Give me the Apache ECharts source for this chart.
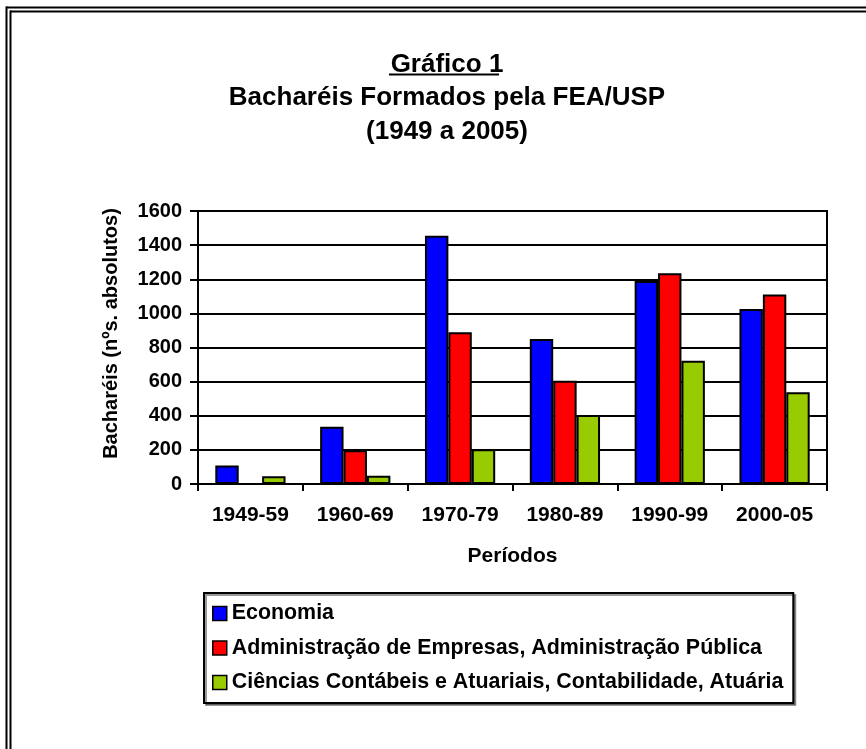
<!DOCTYPE html>
<html>
<head>
<meta charset="utf-8">
<script src="https://cdn.jsdelivr.net/npm/echarts@6/dist/echarts.min.js"></script>
<style>
  html, body { margin: 0; padding: 0; background: #fff; }
  #chart { width: 866px; height: 749px; }
</style>
</head>
<body>
<div id="chart"></div>
<script>
// periodos (eixo x)
var periodos = ['1949-59', '1960-69', '1970-79', '1980-89', '1990-99', '2000-05'];
// bacharéis formados por curso
var economia = [108, 335, 1455, 850, 1190, 1025];
var administracao = [0, 198, 890, 605, 1235, 1110];
var contabeis = [45, 48, 203, 404, 723, 537];

var seriesNames = [
    'Economia',
    'Administração de Empresas, Administração Pública',
    'Ciências Contábeis e Atuariais, Contabilidade, Atuária'
];
var seriesColors = ['#0000ff', '#ff0000', '#99cc00'];

var FONT = '"Liberation Sans", Arial, sans-serif';

var chart = echarts.init(document.getElementById('chart'));

function barSerie(i, data) {
    return {
        name: seriesNames[i],
        type: 'bar',
        data: data,
        barGap: '0%',
        barCategoryGap: '33%',
        itemStyle: { color: seriesColors[i], borderColor: '#000', borderWidth: 2 }
    };
}

var option = {
    backgroundColor: '#fff',
    animation: false,
    textStyle: { fontFamily: FONT },
    title: {
        text: 'Gráfico 1\nBacharéis Formados pela FEA/USP\n(1949 a 2005)',
        left: 442,
        top: 43,
        textAlign: 'center',
        textStyle: { fontFamily: FONT, fontWeight: 'bold', fontSize: 26, lineHeight: 33.5, color: '#000' }
    },
    // moldura dupla e sublinhado do título
    graphic: [
        { type: 'line', shape: { x1: 6, y1: 7.5, x2: 866, y2: 7.5 }, style: { stroke: '#000', lineWidth: 2 } },
        { type: 'line', shape: { x1: 10, y1: 11.5, x2: 866, y2: 11.5 }, style: { stroke: '#000', lineWidth: 2 } },
        { type: 'line', shape: { x1: 6.5, y1: 6.5, x2: 6.5, y2: 749 }, style: { stroke: '#000', lineWidth: 2 } },
        { type: 'line', shape: { x1: 10.5, y1: 10.5, x2: 10.5, y2: 749 }, style: { stroke: '#000', lineWidth: 2 } },
        { type: 'line', shape: { x1: 389, y1: 74.5, x2: 499, y2: 74.5 }, style: { stroke: '#000', lineWidth: 2 } }
    ],
    legend: {
        orient: 'vertical',
        left: 204,
        top: 593,
        padding: [10, 10, 10, 8],
        itemGap: 13.5,
        itemWidth: 14,
        itemHeight: 14,
        icon: 'rect',
        backgroundColor: '#fff',
        borderColor: '#000',
        borderWidth: 2,
        shadowColor: 'rgba(0,0,0,0.4)',
        shadowOffsetX: 2,
        shadowOffsetY: 2,
        itemStyle: { borderColor: '#000', borderWidth: 1.5 },
        textStyle: { fontFamily: FONT, fontWeight: 'bold', fontSize: 21.4, color: '#000' },
        data: seriesNames
    },
    grid: {
        left: 198,
        right: 39,
        top: 211,
        bottom: 265,
        show: true,
        borderColor: '#000',
        borderWidth: 2
    },
    xAxis: {
        type: 'category',
        data: periodos,
        name: 'Períodos',
        nameLocation: 'middle',
        nameGap: 62,
        nameTextStyle: { fontFamily: FONT, fontWeight: 'bold', fontSize: 21, color: '#000' },
        axisLine: { lineStyle: { color: '#000', width: 2 } },
        axisTick: { show: true, length: 7, lineStyle: { color: '#000', width: 2 } },
        axisLabel: { margin: 21, fontFamily: FONT, fontWeight: 'bold', fontSize: 21, color: '#000' }
    },
    yAxis: {
        type: 'value',
        min: 0,
        max: 1600,
        interval: 200,
        name: 'Bacharéis (nºs. absolutos)',
        nameLocation: 'middle',
        nameRotate: 90,
        nameGap: 77,
        nameTextStyle: { fontFamily: FONT, fontWeight: 'bold', fontSize: 20, color: '#000', padding: [0, 0, 0, 28] },
        axisLine: { show: true, lineStyle: { color: '#000', width: 2 } },
        axisTick: { show: true, length: 8, lineStyle: { color: '#000', width: 2 } },
        axisLabel: {
            margin: 16, fontFamily: FONT, fontWeight: 'bold', fontSize: 20, color: '#000',
            formatter: function (v) { return String(v); }
        },
        splitLine: { show: true, lineStyle: { color: '#000', width: 2 } }
    },
    series: [
        barSerie(0, economia),
        barSerie(1, administracao),
        barSerie(2, contabeis)
    ]
};

chart.setOption(option);
</script>
</body>
</html>
